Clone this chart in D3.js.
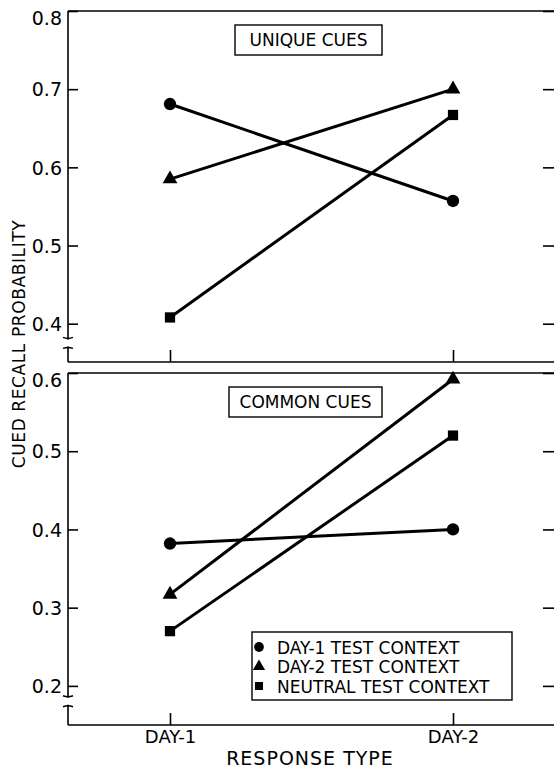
<!DOCTYPE html>
<html>
<head>
<meta charset="utf-8">
<script src="https://cdn.jsdelivr.net/npm/d3@7/dist/d3.min.js"></script>
<style>
  body { margin: 0; background: #fff; }
  svg { display: block; font-family: "DejaVu Sans", sans-serif; }
</style>
</head>
<body>
<div id="chart"></div>
<script>
// categories and series
const days = ["DAY-1", "DAY-2"];
const contexts = ["DAY-1 TEST CONTEXT", "DAY-2 TEST CONTEXT", "NEUTRAL TEST CONTEXT"];
const shapes = [d3.symbolCircle, d3.symbolTriangle, d3.symbolSquare];

// unique cues panel
const uniqueDay1Ctx = [0.681, 0.557];
const uniqueDay2Ctx = [0.585, 0.700];
const uniqueNeutral = [0.408, 0.667];

// common cues panel
const commonDay1Ctx = [0.382, 0.400];
const commonDay2Ctx = [0.317, 0.592];
const commonNeutral = [0.270, 0.520];

const topTicks = [0.4, 0.5, 0.6, 0.7, 0.8];
const bottomTicks = [0.2, 0.3, 0.4, 0.5, 0.6];

const W = 554, H = 771;
const left = 68, right = 556;

const svg = d3.select("#chart").append("svg")
  .attr("width", W)
  .attr("height", H);

const x = d3.scalePoint().domain(days).range([170, 453]);

function drawPanel(opt) {
  const y = d3.scaleLinear().domain(opt.domain).range([opt.bottom, opt.top]);
  const g = svg.append("g");

  // frame: top and bottom lines (right side is off the picture)
  g.append("line").attr("x1", left).attr("x2", right)
    .attr("y1", opt.top).attr("y2", opt.top)
    .attr("stroke", "#000").attr("stroke-width", 1.6);
  g.append("line").attr("x1", left).attr("x2", right)
    .attr("y1", opt.bottom).attr("y2", opt.bottom)
    .attr("stroke", "#000").attr("stroke-width", 1.6);

  // left axis with a break near the bottom
  const b1 = y(opt.breakAt) - 3, b2 = y(opt.breakAt) + 4;
  g.append("line").attr("x1", left).attr("x2", left)
    .attr("y1", opt.top).attr("y2", b1)
    .attr("stroke", "#000").attr("stroke-width", 1.6);
  g.append("line").attr("x1", left).attr("x2", left)
    .attr("y1", b2).attr("y2", opt.bottom)
    .attr("stroke", "#000").attr("stroke-width", 1.6);
  [b1, b2].forEach(function (yy, i) {
    g.append("path")
      .attr("d", "M" + (left - 5) + "," + (yy + (i ? 2 : -2)) + " Q" + left + "," + yy + " " + (left + 5) + "," + (yy + (i ? 2 : -2)))
      .attr("fill", "none").attr("stroke", "#000").attr("stroke-width", 1.4);
  });

  const yAxis = g.append("g")
    .attr("transform", "translate(" + left + ",0)")
    .call(d3.axisLeft(y).tickValues(opt.ticks).tickFormat(d3.format(".1f"))
      .tickSizeInner(-10).tickSizeOuter(0).tickPadding(6));
  yAxis.select(".domain").remove();
  yAxis.selectAll(".tick line").attr("stroke-width", 1.6);
  yAxis.selectAll(".tick text")
    .attr("font-size", 19).attr("fill", "#000")
    .attr("font-family", "DejaVu Sans")
    .attr("dy", function (d) { return d === opt.ticks[opt.ticks.length - 1] ? "0.7em" : "0.35em"; });

  // right side inward ticks
  const rAxis = g.append("g")
    .attr("transform", "translate(" + right + ",0)")
    .call(d3.axisRight(y).tickValues(opt.ticks).tickSizeInner(-13).tickSizeOuter(0).tickFormat(""));
  rAxis.selectAll(".tick line").attr("stroke-width", 1.6);

  // bottom ticks at the two response types
  const xAxis = g.append("g")
    .attr("transform", "translate(0," + opt.bottom + ")")
    .call(d3.axisBottom(x).tickSizeInner(-12).tickSizeOuter(0).tickPadding(5)
      .tickFormat(opt.xLabels ? null : ""));
  xAxis.select(".domain").remove();
  xAxis.selectAll(".tick line").attr("stroke-width", 1.6);
  xAxis.selectAll(".tick text").attr("font-size", 18).attr("fill", "#000")
    .attr("font-family", "DejaVu Sans");

  // panel label box
  g.append("rect")
    .attr("x", opt.labelBox[0]).attr("y", opt.labelBox[1])
    .attr("width", opt.labelBox[2]).attr("height", opt.labelBox[3])
    .attr("fill", "#fff").attr("stroke", "#000").attr("stroke-width", 1.4);
  g.append("text")
    .attr("x", opt.labelBox[0] + opt.labelBox[2] / 2)
    .attr("y", opt.labelBox[1] + opt.labelBox[3] / 2 + 6)
    .attr("text-anchor", "middle").attr("font-size", 17)
    .text(opt.label);

  // lines and markers
  const line = d3.line().x(function (d, i) { return x(days[i]); }).y(function (d) { return y(d); });
  opt.series.forEach(function (vals, s) {
    g.append("path").datum(vals)
      .attr("d", line)
      .attr("fill", "none").attr("stroke", "#000").attr("stroke-width", 3);
    g.selectAll(null).data(vals).enter().append("path")
      .attr("transform", function (d, i) { return "translate(" + x(days[i]) + "," + y(d) + ")"; })
      .attr("d", d3.symbol().type(shapes[s]).size([120, 95, 105][s]))
      .attr("fill", "#000");
  });
}

drawPanel({
  top: 11, bottom: 362, domain: [0.351, 0.8], ticks: topTicks, breakAt: 0.376,
  series: [uniqueDay1Ctx, uniqueDay2Ctx, uniqueNeutral],
  label: "UNIQUE CUES", labelBox: [235, 25, 147, 30], xLabels: false
});

drawPanel({
  top: 373, bottom: 725, domain: [0.15, 0.6], ticks: bottomTicks, breakAt: 0.181,
  series: [commonDay1Ctx, commonDay2Ctx, commonNeutral],
  label: "COMMON CUES", labelBox: [229, 387, 153, 30], xLabels: true
});

// legend
const legend = svg.append("g");
legend.append("rect")
  .attr("x", 252).attr("y", 632).attr("width", 260).attr("height", 68)
  .attr("fill", "#fff").attr("stroke", "#000").attr("stroke-width", 1.4);
contexts.forEach(function (c, i) {
  const cy = 647 + i * 19.5;
  legend.append("path")
    .attr("transform", "translate(259," + cy + ")")
    .attr("d", d3.symbol().type(shapes[i]).size([75, 65, 65][i]))
    .attr("fill", "#000");
  legend.append("text")
    .attr("x", 277).attr("y", cy + 6.5)
    .attr("font-size", 17)
    .text(c);
});

// axis titles
svg.append("text")
  .attr("x", 310).attr("y", 765)
  .attr("text-anchor", "middle")
  .attr("font-size", 19)
  .attr("letter-spacing", 1)
  .text("RESPONSE TYPE");

svg.append("text")
  .attr("transform", "translate(25,344) rotate(-90)")
  .attr("text-anchor", "middle")
  .attr("font-size", 17)
  .attr("letter-spacing", 0.6)
  .text("CUED RECALL PROBABILITY");
</script>
</body>
</html>
